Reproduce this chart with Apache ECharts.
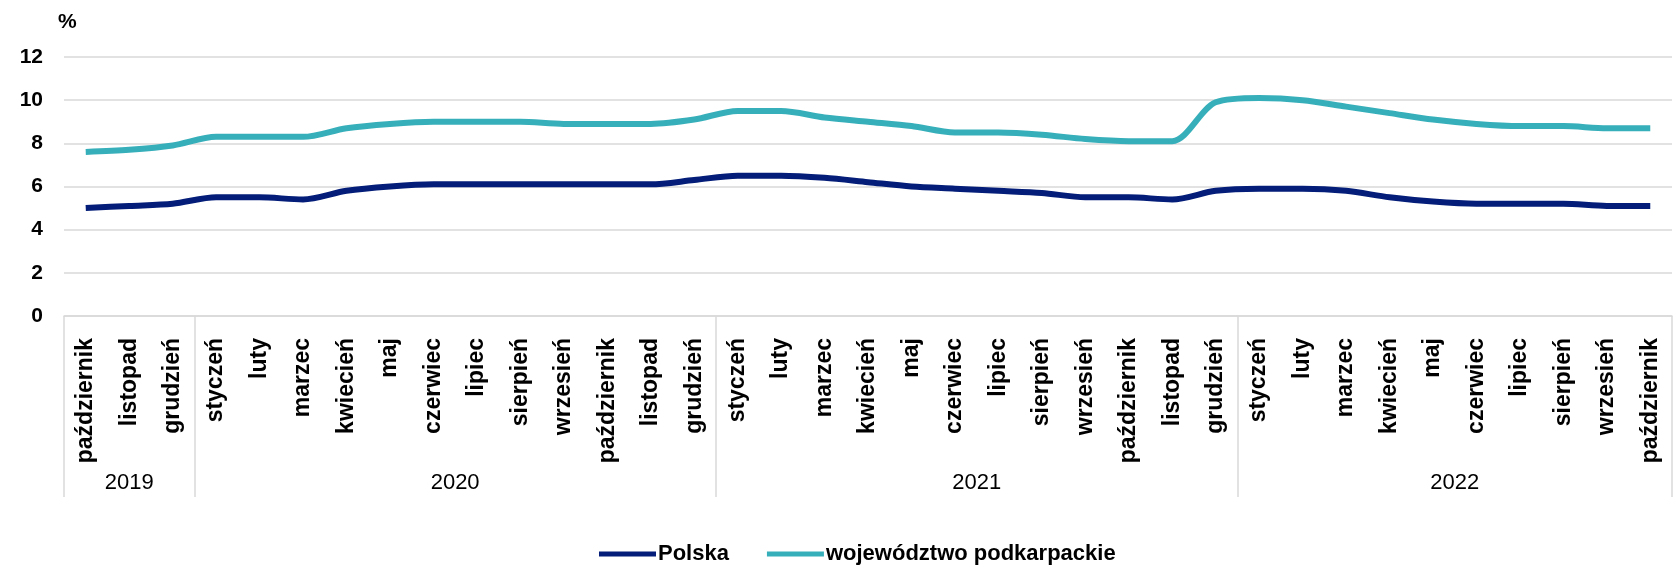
<!DOCTYPE html>
<html>
<head>
<meta charset="utf-8">
<script src="https://cdn.jsdelivr.net/npm/echarts@6/dist/echarts.min.js"></script>
<style>
  html, body { margin: 0; padding: 0; background: #fff; }
  #chart { width: 1676px; height: 568px; }
</style>
</head>
<body>
<div id="chart"></div>
<script>
var months = [
  'październik', 'listopad', 'grudzień',
  'styczeń', 'luty', 'marzec', 'kwiecień', 'maj', 'czerwiec', 'lipiec', 'sierpień', 'wrzesień', 'październik', 'listopad', 'grudzień',
  'styczeń', 'luty', 'marzec', 'kwiecień', 'maj', 'czerwiec', 'lipiec', 'sierpień', 'wrzesień', 'październik', 'listopad', 'grudzień',
  'styczeń', 'luty', 'marzec', 'kwiecień', 'maj', 'czerwiec', 'lipiec', 'sierpień', 'wrzesień', 'październik'
];
var years = ['2019', '2020', '2021', '2022'];
var yearSpans = [3, 12, 12, 10];

var polska = [5.0, 5.1, 5.2, 5.5, 5.5, 5.4, 5.8, 6.0, 6.1, 6.1, 6.1, 6.1, 6.1, 6.1, 6.3,
  6.5, 6.5, 6.4, 6.2, 6.0, 5.9, 5.8, 5.7, 5.5, 5.5, 5.4, 5.8,
  5.9, 5.9, 5.8, 5.5, 5.3, 5.2, 5.2, 5.2, 5.1, 5.1];
var podkarpackie = [7.6, 7.7, 7.9, 8.3, 8.3, 8.3, 8.7, 8.9, 9.0, 9.0, 9.0, 8.9, 8.9, 8.9, 9.1,
  9.5, 9.5, 9.2, 9.0, 8.8, 8.5, 8.5, 8.4, 8.2, 8.1, 8.1, 9.9,
  10.1, 10.0, 9.7, 9.4, 9.1, 8.9, 8.8, 8.8, 8.7, 8.7];

var navy = '#031d78';
var teal = '#37afba';
var rule = '#d9d9d9';
var font = "'Liberation Sans', Arial, sans-serif";

// year boundaries (category index where each year starts) and label centres
var yearStarts = [];
var yearCenters = [];
var acc = 0;
yearSpans.forEach(function(n) {
  yearStarts.push(acc);
  yearCenters.push(acc + n / 2);
  acc += n;
});

var chart = echarts.init(document.getElementById('chart'), null, { renderer: 'canvas' });
chart.setOption({
  animation: false,
  textStyle: { fontFamily: font },
  grid: { left: 64, right: 4, top: 57, bottom: 252 },
  legend: {
    left: 594,
    top: 538,
    itemWidth: 57,
    itemHeight: 5,
    itemGap: 38,
    icon: 'rect',
    textStyle: { color: '#000', fontSize: 22, fontWeight: 'bold', fontFamily: font, padding: [0, 0, 0, -3] },
    data: ['Polska', 'województwo podkarpackie']
  },
  xAxis: [{
    type: 'category',
    data: months,
    boundaryGap: true,
    axisLine: { lineStyle: { color: rule, width: 1.5 } },
    axisTick: {
      show: true,
      length: 181,
      lineStyle: { color: rule, width: 1.5 },
      interval: function(index) { return yearStarts.indexOf(index) >= 0; }
    },
    axisLabel: {
      interval: 0,
      rotate: 90,
      margin: 22,
      color: '#000',
      fontSize: 23,
      fontWeight: 'bold',
      fontFamily: font
    },
    splitLine: { show: false }
  }, {
    type: 'value',
    position: 'bottom',
    min: 0,
    max: months.length,
    axisLine: { show: false },
    axisTick: { show: false },
    splitLine: { show: false },
    axisLabel: {
      customValues: yearCenters,
      margin: 156,
      color: '#000',
      fontSize: 22,
      fontFamily: font,
      formatter: function(v) { return years[yearCenters.indexOf(v)]; }
    }
  }],
  yAxis: {
    type: 'value',
    min: 0,
    max: 12,
    interval: 2,
    name: '%',
    nameLocation: 'end',
    nameGap: 24,
    nameTextStyle: { color: '#000', fontSize: 21, fontWeight: 'bold', fontFamily: font, align: 'left', padding: [0, 0, 0, -6] },
    axisLine: { show: false },
    axisTick: { show: false },
    splitLine: { lineStyle: { color: rule, width: 1.5 } },
    axisLabel: { color: '#000', fontSize: 21, fontWeight: 'bold', margin: 21, fontFamily: font }
  },
  series: [{
    name: 'Polska',
    type: 'line',
    data: polska,
    smooth: 0.3,
    symbol: 'none',
    itemStyle: { color: navy },
    lineStyle: { color: navy, width: 6 }
  }, {
    name: 'województwo podkarpackie',
    type: 'line',
    data: podkarpackie,
    smooth: 0.3,
    symbol: 'none',
    itemStyle: { color: teal },
    lineStyle: { color: teal, width: 6 }
  }]
});
</script>
</body>
</html>
